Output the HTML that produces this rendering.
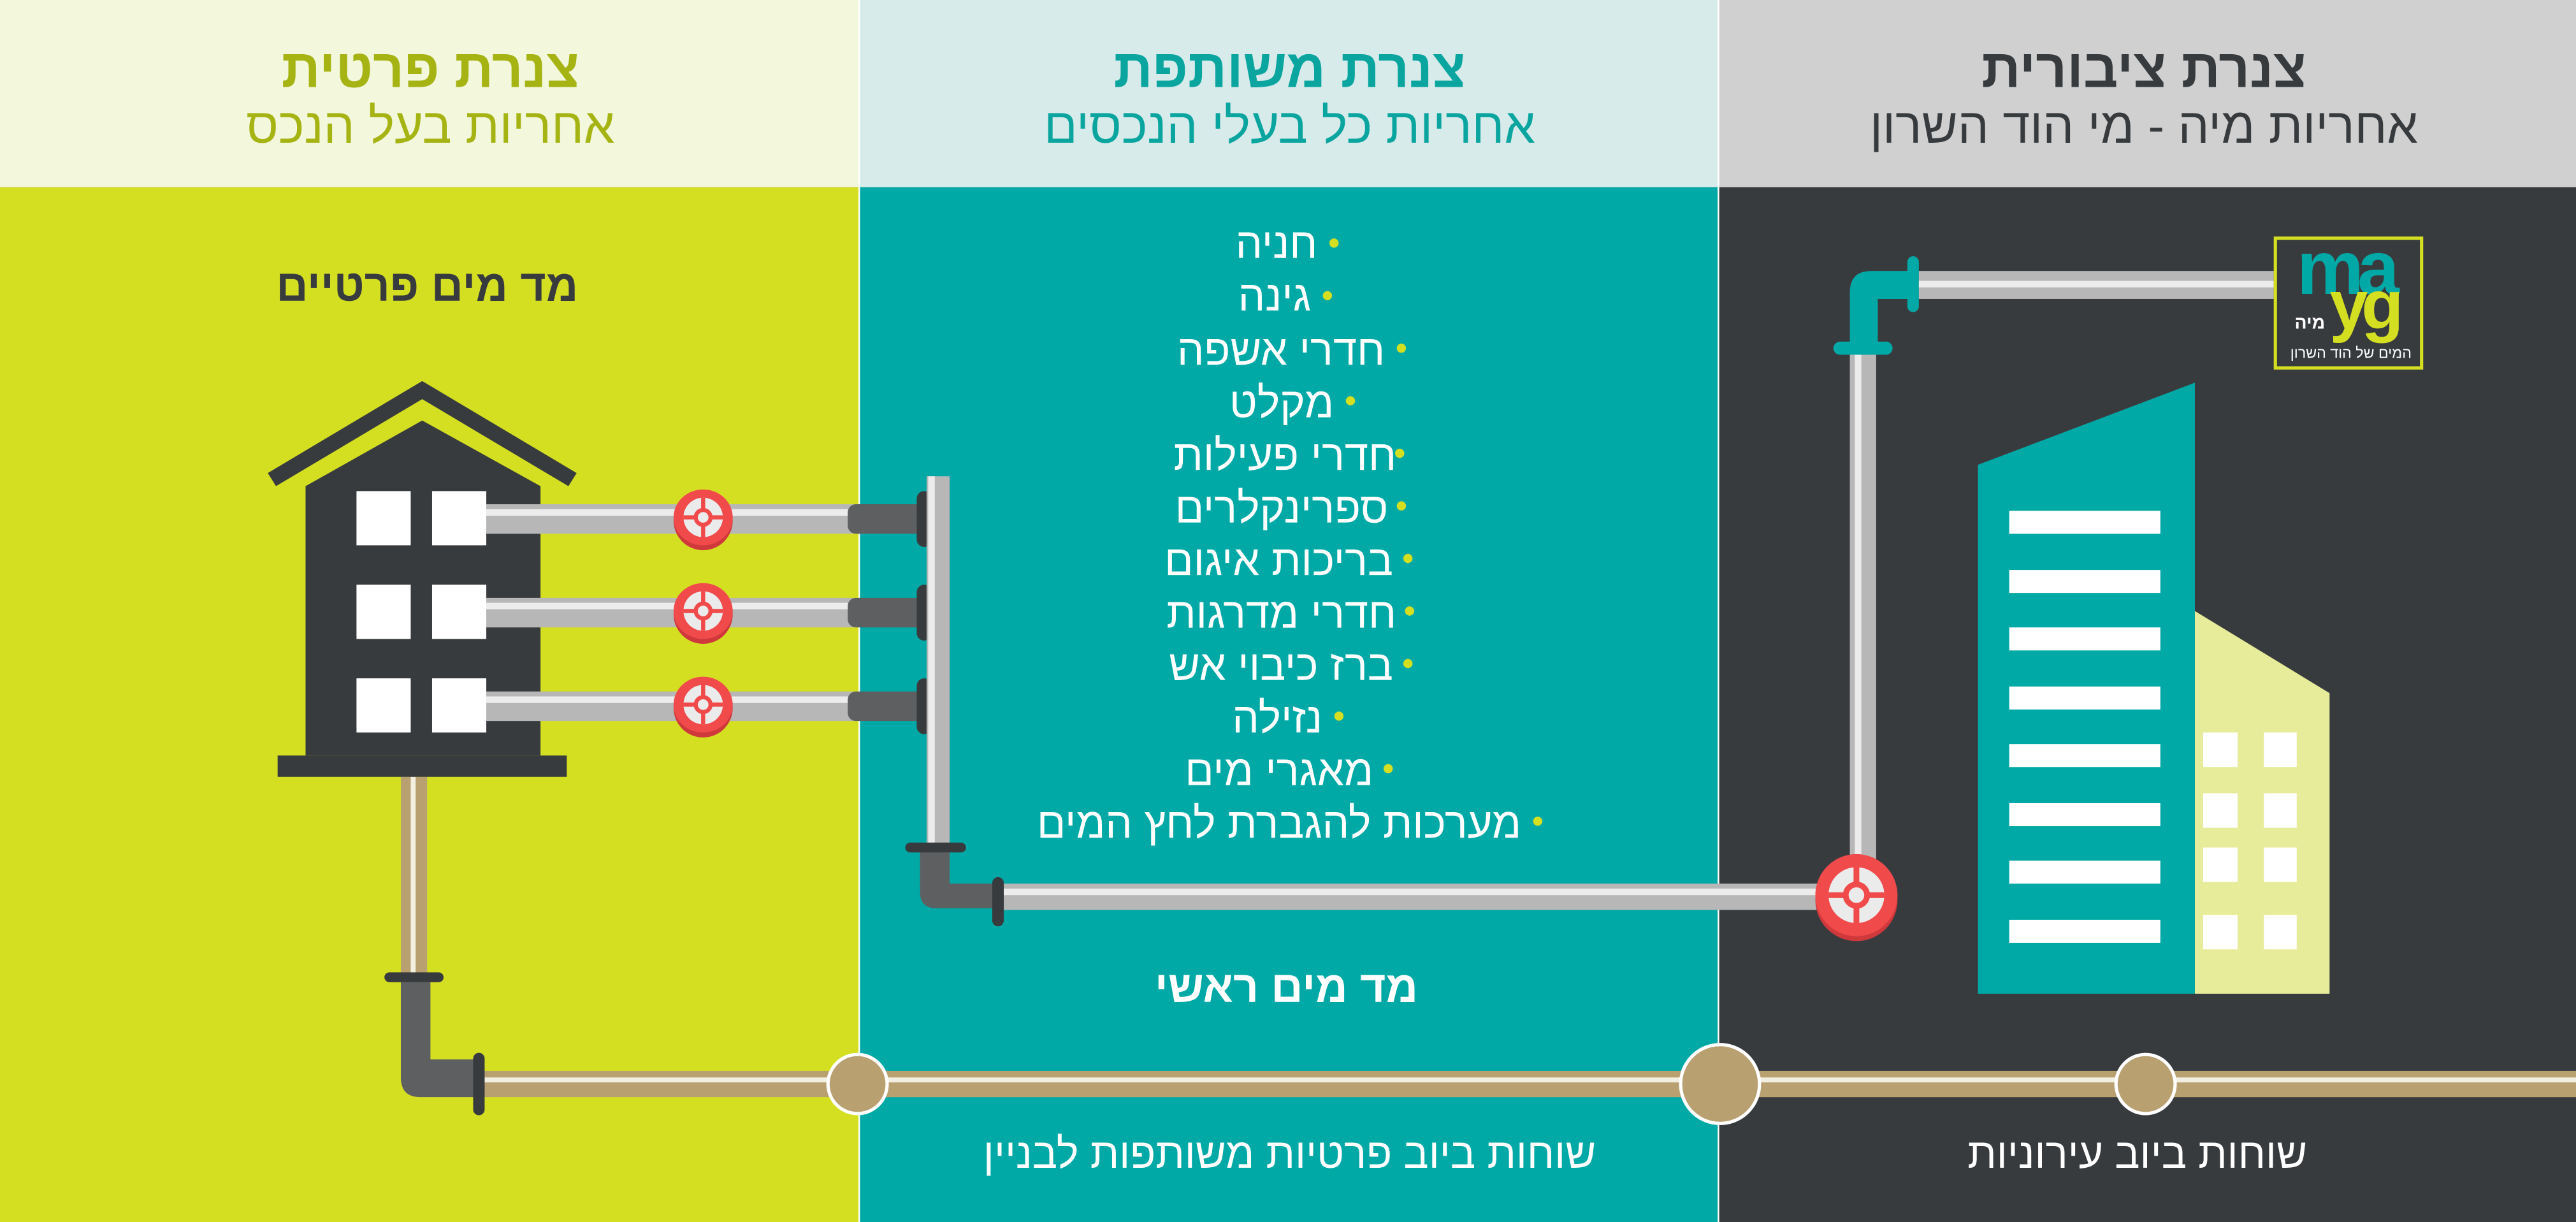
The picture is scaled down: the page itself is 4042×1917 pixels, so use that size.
<!DOCTYPE html>
<html><head><meta charset="utf-8"><style>
html,body{margin:0;padding:0;width:4042px;height:1917px;overflow:hidden;background:#383b3e}
svg{display:block}
text{font-family:"Liberation Sans","Noto Sans CJK SC",sans-serif}
</style></head><body>
<svg width="4042" height="1917" viewBox="0 0 1568 744" preserveAspectRatio="none" xmlns="http://www.w3.org/2000/svg">
<rect x="0" y="0" width="523" height="114" fill="#f3f7db"/>
<rect x="523" y="0" width="523" height="114" fill="#d7ebeb"/>
<rect x="1046" y="0" width="522" height="114" fill="#d0d0d0"/>
<rect x="0" y="114" width="523" height="630" fill="#d4df22"/>
<rect x="523" y="114" width="523" height="630" fill="#00a9a6"/>
<rect x="1046" y="114" width="522" height="630" fill="#383b3e"/>
<line x1="523" y1="0" x2="523" y2="744" stroke="#ffffff" stroke-width="1"/>
<line x1="1046" y1="0" x2="1046" y2="744" stroke="#ffffff" stroke-width="1"/>

<g direction="rtl" text-anchor="middle">
<text x="262" y="53" font-size="33" font-weight="bold" fill="#a5b313">צנרת פרטית</text>
<text x="262" y="87" font-size="30" fill="#a5b313">אחריות בעל הנכס</text>
<text x="785" y="53" font-size="33" font-weight="bold" fill="#0aa59f">צנרת משותפת</text>
<text x="785" y="87" font-size="30" fill="#0aa59f">אחריות כל בעלי הנכסים</text>
<text x="1305" y="53" font-size="33" font-weight="bold" fill="#383b3e">צנרת ציבורית</text>
<text x="1305" y="87" font-size="30" fill="#383b3e">אחריות מיה - מי הוד השרון</text>

<text x="260" y="183" font-size="27" font-weight="bold" fill="#383b3e">מד מים פרטיים</text>
<text x="783" y="610" font-size="27" font-weight="bold" fill="#ffffff">מד מים ראשי</text>
<text x="785" y="711" font-size="25.5" fill="#ffffff">שוחות ביוב פרטיות משותפות לבניין</text>
<text x="1301" y="711" font-size="25.5" fill="#ffffff">שוחות ביוב עירוניות</text>
</g>

<g font-size="26" fill="#ffffff" direction="rtl" text-anchor="start">
<text x="802" y="157">חניה</text>
<text x="798" y="189">גינה</text>
<text x="843" y="222">חדרי אשפה</text>
<text x="812" y="254">מקלט</text>
<text x="850" y="286">חדרי פעילות</text>
<text x="845" y="318">ספרינקלרים</text>
<text x="848" y="350">בריכות איגום</text>
<text x="850" y="382">חדרי מדרגות</text>
<text x="848" y="414">ברז כיבוי אש</text>
<text x="805" y="446">נזילה</text>
<text x="836" y="478">מאגרי מים</text>
<text x="926" y="510">מערכות להגברת לחץ המים</text>
</g>
<g fill="#d4df22">
<circle cx="812" cy="148" r="2.8"/><circle cx="808" cy="180" r="2.8"/><circle cx="853" cy="212" r="2.8"/>
<circle cx="822" cy="244" r="2.8"/><circle cx="852" cy="276" r="2.8"/><circle cx="853" cy="308" r="2.8"/>
<circle cx="857" cy="340" r="2.8"/><circle cx="858" cy="372" r="2.8"/><circle cx="857" cy="404" r="2.8"/>
<circle cx="815" cy="436" r="2.8"/><circle cx="845" cy="468" r="2.8"/><circle cx="936" cy="500" r="2.8"/>
</g>

<rect x="244" y="473" width="16" height="125" fill="#b8a070"/>
<rect x="250" y="473" width="3" height="125" fill="#f2eee0"/>
<path d="M244 598 H262 V645 H292 V668 H256 Q244 668 244 656 Z" fill="#5e5f61"/>
<rect x="234" y="592" width="36" height="6" rx="3" fill="#383b3e"/>
<rect x="292" y="652" width="1276" height="16" fill="#b8a070"/>
<rect x="292" y="656" width="1276" height="3" fill="#f2eee0"/>
<rect x="288" y="641" width="7" height="38" rx="3.5" fill="#383b3e"/>
<g fill="#b8a070" stroke="#ffffff" stroke-width="2">
<circle cx="522" cy="660" r="18"/><circle cx="1047" cy="660" r="24"/><circle cx="1306" cy="660" r="18"/>
</g>

<polygon points="257,232 351,288 346,296 257,243 168,296 163,288" fill="#383b3e"/>
<polygon points="257,256 329,296 329,460 186,460 186,296" fill="#383b3e"/>
<rect x="169" y="460" width="176" height="13" fill="#383b3e"/>
<g fill="#ffffff">
<rect x="217" y="299" width="33" height="33"/><rect x="263" y="299" width="33" height="33"/>
<rect x="217" y="356" width="33" height="33"/><rect x="263" y="356" width="33" height="33"/>
<rect x="217" y="413" width="33" height="33"/><rect x="263" y="413" width="33" height="33"/>
</g>

<g id="br">
<rect x="296" y="307" width="224" height="18" fill="#b7b7b7"/>
<rect x="296" y="310" width="224" height="4" fill="#ececec"/>
<rect x="516" y="307" width="46" height="18" rx="5" fill="#5e5f61"/>
<rect x="558" y="299" width="9" height="34" rx="4.5" fill="#383b3e"/>
<ellipse cx="428" cy="317" rx="18" ry="18" fill="#d0393c"/>
<ellipse cx="428" cy="315" rx="18" ry="17" fill="#f04a4b"/>
<circle cx="428" cy="315" r="12" fill="#ebebeb"/>
<path d="M416 315 H440 M428 303 V327" stroke="#f04a4b" stroke-width="2.5"/>
<circle cx="428" cy="315" r="4.5" fill="#ebebeb" stroke="#f04a4b" stroke-width="2.5"/>
</g>
<use href="#br" y="57"/>
<use href="#br" y="114"/>

<rect x="564" y="290" width="14" height="240" fill="#b7b7b7"/>
<rect x="565" y="290" width="4" height="240" fill="#ececec"/>
<path d="M560 518 H578 V538 H606 V553 H570 Q560 553 560 543 Z" fill="#5e5f61"/>
<rect x="551" y="513" width="37" height="6" rx="3" fill="#383b3e"/>
<rect x="604" y="534" width="7" height="30" rx="3.5" fill="#383b3e"/>
<rect x="611" y="538" width="500" height="16" fill="#b7b7b7"/>
<rect x="611" y="541" width="500" height="4" fill="#ececec"/>

<rect x="1126" y="213" width="16" height="315" fill="#b7b7b7"/>
<rect x="1129" y="213" width="4" height="315" fill="#ececec"/>
<path d="M1126 210 V178 Q1126 165 1139 165 H1166 V182 H1143 V210 Z" fill="#00a9a6"/>
<rect x="1116" y="208" width="36" height="8" rx="4" fill="#00a9a6"/>
<rect x="1161" y="156" width="7" height="34" rx="3.5" fill="#00a9a6"/>
<rect x="1168" y="165" width="216" height="17" fill="#b7b7b7"/>
<rect x="1168" y="171" width="216" height="4" fill="#ececec"/>

<circle cx="1130" cy="548" r="25" fill="#d0393c"/>
<circle cx="1130" cy="545" r="25" fill="#f04a4b"/>
<circle cx="1130" cy="545" r="17" fill="#ebebeb"/>
<path d="M1113 545 H1147 M1130 528 V562" stroke="#f04a4b" stroke-width="3.5"/>
<circle cx="1130" cy="545" r="6.5" fill="#ebebeb" stroke="#f04a4b" stroke-width="3.5"/>

<rect x="1385" y="145" width="89" height="79" fill="#383b3e" stroke="#d4df22" stroke-width="2"/>
<text x="1398" y="179" font-size="46" font-weight="bold" fill="#00a9a6" letter-spacing="-4">ma</text>
<text x="1418" y="200" font-size="42" font-weight="bold" fill="#d4df22" letter-spacing="-4">yg</text>
<text x="1406" y="200" font-size="11" font-weight="bold" fill="#ffffff" direction="rtl" text-anchor="middle">מיה</text>
<text x="1431" y="218" font-size="9" fill="#ffffff" direction="rtl" text-anchor="middle">המים של הוד השרון</text>

<polygon points="1336,372 1418,422 1418,605 1336,605" fill="#e7ec9a"/>
<polygon points="1204,283 1336,233 1336,605 1204,605" fill="#00a9a6"/>
<g fill="#ffffff">
<rect x="1223" y="311" width="92" height="14"/><rect x="1223" y="347" width="92" height="14"/>
<rect x="1223" y="382" width="92" height="14"/><rect x="1223" y="418" width="92" height="14"/>
<rect x="1223" y="453" width="92" height="14"/><rect x="1223" y="489" width="92" height="14"/>
<rect x="1223" y="524" width="92" height="14"/><rect x="1223" y="560" width="92" height="14"/>
<rect x="1341" y="446" width="21" height="21"/><rect x="1378" y="446" width="20" height="21"/>
<rect x="1341" y="483" width="21" height="21"/><rect x="1378" y="483" width="20" height="21"/>
<rect x="1341" y="516" width="21" height="21"/><rect x="1378" y="516" width="20" height="21"/>
<rect x="1341" y="557" width="21" height="21"/><rect x="1378" y="557" width="20" height="21"/>
</g>
</svg>
</body></html>
